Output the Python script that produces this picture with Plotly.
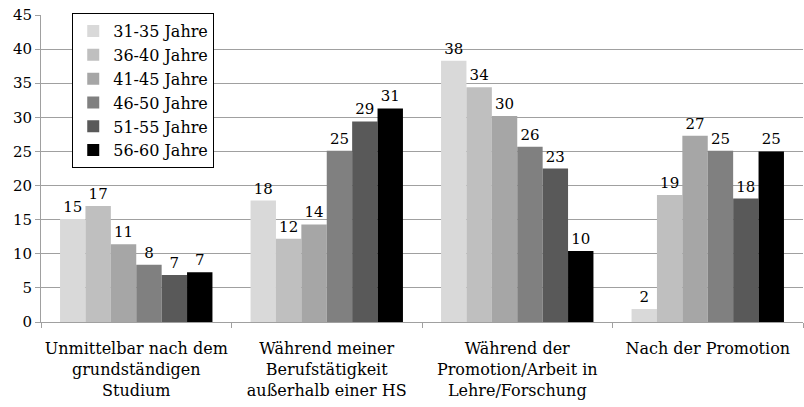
import plotly.graph_objects as go

# Zeitpunkt der Entscheidung nach Altersgruppen

kategorien = [
    'Unmittelbar nach dem<br>grundständigen<br>Studium',
    'Während meiner<br>Berufstätigkeit<br>außerhalb einer HS',
    'Während der<br>Promotion/Arbeit in<br>Lehre/Forschung',
    'Nach der Promotion<br> <br> ',
]

gruppen = ['31-35 Jahre', '36-40 Jahre', '41-45 Jahre', '46-50 Jahre', '51-55 Jahre', '56-60 Jahre']
farben = ['#d9d9d9', '#bfbfbf', '#a6a6a6', '#808080', '#595959', '#000000']

werte_31_35 = [15.1, 17.8, 38.3, 1.9]
werte_36_40 = [17.0, 12.2, 34.4, 18.6]
werte_41_45 = [11.4, 14.3, 30.2, 27.3]
werte_46_50 = [8.4, 25.1, 25.7, 25.1]
werte_51_55 = [6.9, 29.4, 22.5, 18.1]
werte_56_60 = [7.3, 31.3, 10.4, 25.0]

labels_31_35 = ['15', '18', '38', '2']
labels_36_40 = ['17', '12', '34', '19']
labels_41_45 = ['11', '14', '30', '27']
labels_46_50 = ['8', '25', '26', '25']
labels_51_55 = ['7', '29', '23', '18']
labels_56_60 = ['7', '31', '10', '25']

werte = [werte_31_35, werte_36_40, werte_41_45, werte_46_50, werte_51_55, werte_56_60]
labels = [labels_31_35, labels_36_40, labels_41_45, labels_46_50, labels_51_55, labels_56_60]

schrift = 'DejaVu Serif'

fig = go.Figure()
for name, farbe, y, t in zip(gruppen, farben, werte, labels):
    fig.add_trace(go.Bar(
        x=kategorien, y=y, name=name, marker=dict(color=farbe, line=dict(width=0)),
        text=t, textposition='outside', cliponaxis=False,
        textfont=dict(family=schrift, size=15, color='black'),
    ))

fig.update_layout(
    width=804, height=407,
    margin=dict(l=41, r=1, t=15, b=85, autoexpand=False),
    barmode='group', bargap=0.2, bargroupgap=0,
    plot_bgcolor='white', paper_bgcolor='white',
    font=dict(family=schrift, size=15, color='black'),
    showlegend=True,
    legend=dict(
        x=0.041, y=1.006, xanchor='left', yanchor='top', traceorder='normal',
        bordercolor='black', borderwidth=1, bgcolor='white',
        font=dict(family=schrift, size=16),
    ),
    xaxis=dict(
        tickson='boundaries', ticks='outside', ticklen=5, tickcolor='#a0a0a0',
        showline=True, linecolor='#a0a0a0', linewidth=1, tickangle=0,
        ticklabelstandoff=12,
        tickfont=dict(family=schrift, size=16),
    ),
    yaxis=dict(
        range=[0, 45], dtick=5, ticks='outside', ticklen=5, tickcolor='#a0a0a0',
        showline=True, linecolor='#a0a0a0', linewidth=1,
        showgrid=True, gridcolor='#a0a0a0', gridwidth=1, zeroline=False,
        tickfont=dict(family=schrift, size=15),
    ),
)

fig.write_html("out.html", config={'displayModeBar': False},
               post_script="document.body.style.margin='0';")
